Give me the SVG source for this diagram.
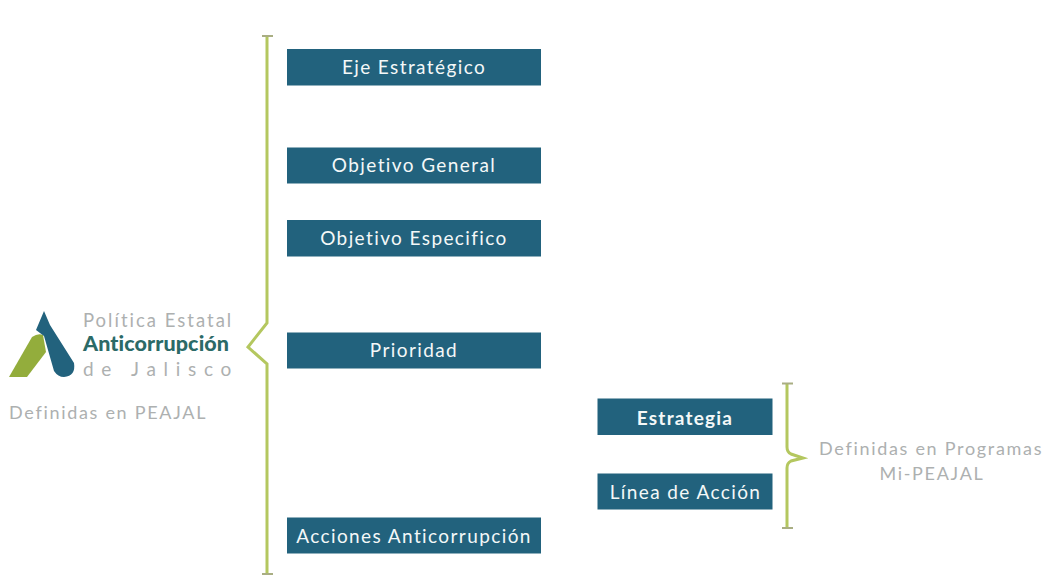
<svg xmlns="http://www.w3.org/2000/svg" width="1047" height="575" viewBox="0 0 1047 575">
<style>
text{font-family:"Lato","Liberation Sans",sans-serif}
.b{fill:#22627d}
.t{fill:#f4f8f8;font-size:19px;letter-spacing:1.4px;text-anchor:middle}
.g{fill:#adb0b0;font-size:18px;letter-spacing:1.7px}
.br{fill:none;stroke:#b4c75f;stroke-width:3}
.cap{fill:none;stroke:#a9ae83;stroke-width:2}
</style>
<rect width="1047" height="575" fill="#fff"/>
<g id="connectors">
<path class="br" d="M267 36V323L248 347L267 364V574"/>
<path class="cap" d="M262 36H273M262 574H273"/>
<path class="br" d="M787 384V447Q787 452 791 454L803 458L791 461Q787 463 787 468V527"/>
<path class="cap" d="M782 383.500H793M782 528H793"/>
</g>
<g id="n1"><rect class="b" x="287" y="49" width="254" height="36.500"/><text class="t" x="414" y="73.500">Eje Estratégico</text></g>
<g id="n2"><rect class="b" x="287" y="147.500" width="254" height="36"/><text class="t" x="414" y="172">Objetivo General</text></g>
<g id="n3"><rect class="b" x="287" y="220" width="254" height="36.500"/><text class="t" x="414" y="245">Objetivo Especifico</text></g>
<g id="n4"><rect class="b" x="287" y="332.500" width="254" height="36"/><text class="t" x="414" y="357">Prioridad</text></g>
<g id="n5"><rect class="b" x="287" y="517.500" width="254" height="36"/><text class="t" x="414" y="543">Acciones Anticorrupción</text></g>
<g id="n6"><rect class="b" x="597.500" y="398.500" width="175" height="36.500"/><text class="t" x="685" y="424.500" style="font-weight:700;letter-spacing:1.2px">Estrategia</text></g>
<g id="n7"><rect class="b" x="597.500" y="473.500" width="175" height="36"/><text class="t" x="685.500" y="499">Línea de Acción</text></g>
<g id="logo">
<path d="M9 377L32 337Q38 333 43 335L46 352L27 377Z" fill="#93ad3c"/>
<path d="M36 330L44 311L50 325L74 363Q76 376 64 377Q58 377 54 371L44 336Z" fill="#22627d"/>
<text x="83" y="327" style="font-size:18.500px;letter-spacing:2px;fill:#adb0b0">Política Estatal</text>
<text x="83" y="351" style="font-size:21.500px;font-weight:900;letter-spacing:.1px;fill:#2b6a67">Anticorrupción</text>
<text x="83" y="376" style="font-size:19px;letter-spacing:7.700px;fill:#adb0b0">de Jalisco</text>
</g>
<text id="l1" class="g" x="9" y="419">Definidas en PEAJAL</text>
<g id="l2"><text class="g" x="819" y="455">Definidas en Programas</text><text class="g" x="932" y="480" text-anchor="middle">Mi-PEAJAL</text></g>
</svg>
